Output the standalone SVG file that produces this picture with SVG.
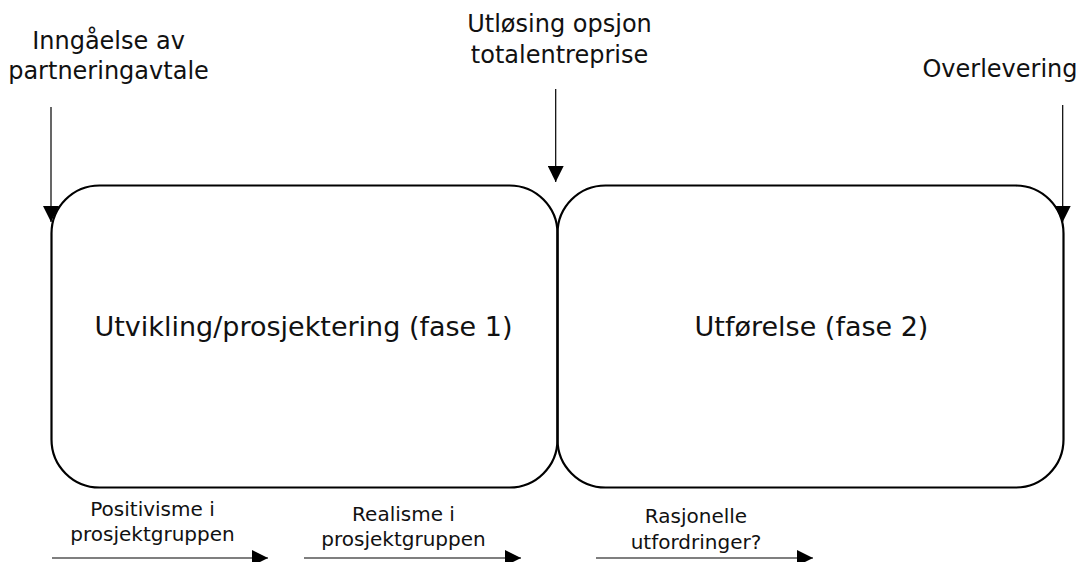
<svg xmlns="http://www.w3.org/2000/svg" width="1079" height="562" viewBox="0 0 1079 562">
  <style>
    .phase { fill: none; stroke: #000; stroke-width: 2.2; }
    .link { fill: none; stroke: #000; stroke-width: 1.2; }
    .lbl { font-family: "DejaVu Sans", Verdana, sans-serif; fill: #111; text-anchor: middle; }
    .top { font-size: 24px; }
    .main { font-size: 27px; }
    .small { font-size: 20px; }
  </style>
  <defs>
    <marker id="head" viewBox="0 0 16 16" refX="16" refY="8" markerWidth="16" markerHeight="16" markerUnits="userSpaceOnUse" orient="auto">
      <path d="M0,0 L16,8 L0,16 Z" fill="#000"/>
    </marker>
  </defs>

  <rect width="1079" height="562" fill="#fff"/>

  <!-- phase 1 -->
  <g id="phase1">
    <rect class="phase" x="51.5" y="185.5" width="506" height="302" rx="48" ry="48"/>
    <text class="lbl main" x="303.5" y="336">Utvikling/prosjektering (fase 1)</text>
  </g>

  <!-- phase 2 -->
  <g id="phase2">
    <rect class="phase" x="557.5" y="185.5" width="506" height="302" rx="48" ry="48"/>
    <text class="lbl main" x="811.5" y="336">Utførelse (fase 2)</text>
  </g>

  <!-- milestone labels -->
  <g id="milestone-start">
    <text class="lbl top" x="108.5" y="49">Inngåelse av</text>
    <text class="lbl top" x="108.5" y="79">partneringavtale</text>
  </g>
  <g id="milestone-option">
    <text class="lbl top" x="559.5" y="32">Utløsing opsjon</text>
    <text class="lbl top" x="559.5" y="63">totalentreprise</text>
  </g>
  <g id="milestone-handover">
    <text class="lbl top" x="1000" y="77">Overlevering</text>
  </g>

  <!-- mood labels under the timeline -->
  <g id="mood-1">
    <text class="lbl small" x="152.5" y="516">Positivisme i</text>
    <text class="lbl small" x="152.5" y="541">prosjektgruppen</text>
  </g>
  <g id="mood-2">
    <text class="lbl small" x="403.5" y="521">Realisme i</text>
    <text class="lbl small" x="403.5" y="546">prosjektgruppen</text>
  </g>
  <g id="mood-3">
    <text class="lbl small" x="696" y="523">Rasjonelle</text>
    <text class="lbl small" x="696" y="549">utfordringer?</text>
  </g>

  <!-- connectors -->
  <g id="connectors">
    <line class="link" x1="51" y1="107" x2="51" y2="222" marker-end="url(#head)"/>
    <line class="link" x1="555.7" y1="89" x2="555.7" y2="182" marker-end="url(#head)"/>
    <line class="link" x1="1062.7" y1="105" x2="1062.7" y2="222" marker-end="url(#head)"/>
    <line class="link" x1="52" y1="558" x2="268" y2="558" marker-end="url(#head)"/>
    <line class="link" x1="304" y1="558" x2="521" y2="558" marker-end="url(#head)"/>
    <line class="link" x1="596" y1="558" x2="813" y2="558" marker-end="url(#head)"/>
  </g>
</svg>
